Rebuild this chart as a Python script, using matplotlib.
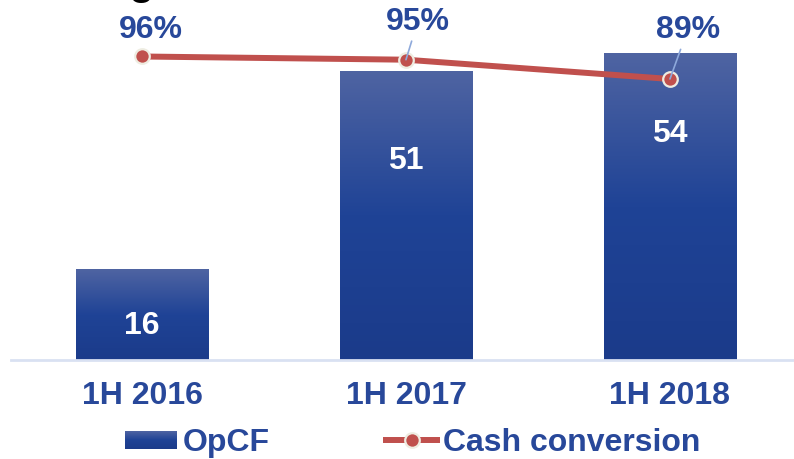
import numpy as np
import matplotlib.pyplot as plt
from matplotlib.colors import LinearSegmentedColormap
from matplotlib.lines import Line2D

plt.rcParams['font.family'] = ['Liberation Sans', 'DejaVu Sans']
plt.rcParams['font.weight'] = 'bold'

# data
periods = ["1H 2016", "1H 2017", "1H 2018"]
opcf = [16, 51, 54]
cash_conv = [96, 95, 89]

# styling
BLUE_TXT = "#28489A"
RED = "#C0504D"
CREAM = "#EEECE1"
LEADER = "#8EA9DB"
bar_cmap = LinearSegmentedColormap.from_list(
    "bar", [(0, "#1B3B8A"), (0.5, "#1F4396"), (1, "#4F64A2")])
in_bar_pos = [0.39, 0.69, 0.74]          # label height as fraction of bar
pct_offsets = [(9, 27), (12, 39), (18, 50)]  # label offset in pixels
leader = [False, True, True]
FS = 23

W, H = 794, 460
fig = plt.figure(figsize=(W / 100, H / 100), dpi=100)
ax = fig.add_axes([11 / W, (H - 361) / H, (793 - 11) / W, 361 / H])

x = np.arange(len(periods))
bars = ax.bar(x, opcf, width=0.5, color='none', zorder=2)
grad = np.linspace(0, 1, 256).reshape(-1, 1)
for b in bars:
    im = ax.imshow(grad, extent=[b.get_x(), b.get_x() + b.get_width(), 0, b.get_height()],
                   origin='lower', aspect='auto', cmap=bar_cmap, zorder=1)
    im.set_clip_path(b)

for xi, v, p in zip(x, opcf, in_bar_pos):
    ax.text(xi, v * p, str(v), color='white', fontsize=FS, ha='center', va='center', zorder=3)

ax.set_xlim(-0.496, 2.466)
ax.set_ylim(0, 63.6)
ax.set_xticks(x, periods)
ax.tick_params(axis='x', length=0, pad=14.5, labelsize=FS, labelcolor=BLUE_TXT)
ax.set_yticks([])
for s in ['top', 'left', 'right']:
    ax.spines[s].set_visible(False)
ax.spines['bottom'].set_color('#D9E1F2')
ax.spines['bottom'].set_linewidth(2)

ax2 = ax.twinx()
ax2.set_ylim(1.5, 113.9)
ax2.plot(x, cash_conv, color=RED, lw=4.3, marker='o', ms=10.5,
         mfc=RED, mec=CREAM, mew=1.6, solid_capstyle='butt')
ax2.set_yticks([])
for s in ax2.spines.values():
    s.set_visible(False)

for xi, v, (dx, dy), ld in zip(x, cash_conv, pct_offsets, leader):
    ax2.annotate(f"{v}%", (xi, v), xytext=(dx, dy), textcoords='offset pixels',
                 ha='center', va='center', fontsize=FS, color=BLUE_TXT,
                 arrowprops=dict(arrowstyle='-', color=LEADER, lw=1.2,
                                 shrinkA=2, shrinkB=0) if ld else None)

# cut-off title remnant at the top
fig.text(128 / W, 1 + 6 / H, "g", fontsize=30, color='black', ha='left', va='baseline')

# legend
lax = fig.add_axes([125 / W, 1 - 450 / H, 52 / W, 18 / H])
lax.imshow(grad, origin='lower', aspect='auto', cmap=bar_cmap)
lax.axis('off')
fig.text(183 / W, 1 - 451 / H, "OpCF", fontsize=FS, color=BLUE_TXT, ha='left', va='baseline')
fig.add_artist(Line2D([383 / W, 440 / W], [1 - 441 / H] * 2, transform=fig.transFigure,
                      color=RED, lw=4.3, solid_capstyle='butt'))
fig.add_artist(Line2D([412 / W], [1 - 441 / H], transform=fig.transFigure, marker='o',
                      ms=10.5, mfc=RED, mec=CREAM, mew=1.6))
fig.text(443 / W, 1 - 451 / H, "Cash conversion", fontsize=FS, color=BLUE_TXT,
         ha='left', va='baseline')

fig.savefig("out.png", dpi=100)
